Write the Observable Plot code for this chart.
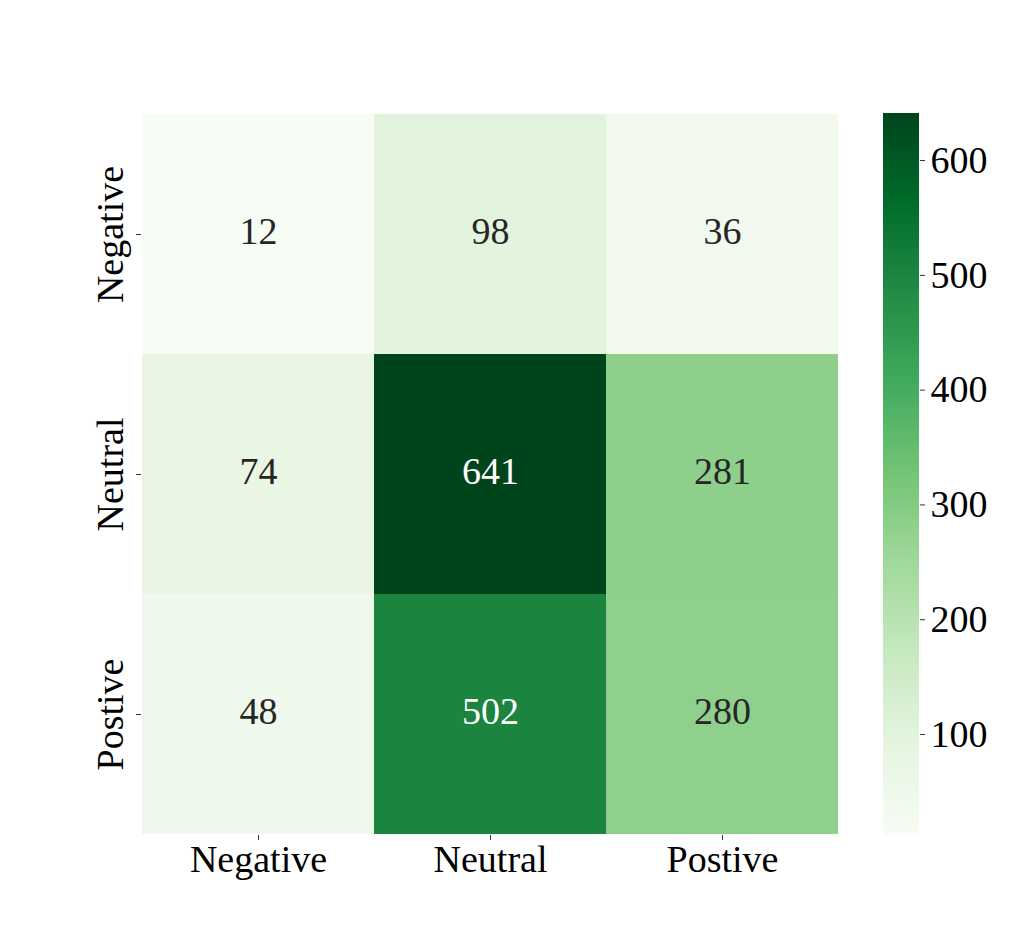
<!DOCTYPE html>
<html>
<head>
<meta charset="utf-8">
<script src="https://cdn.jsdelivr.net/npm/d3@7"></script>
<script src="https://cdn.jsdelivr.net/npm/@observablehq/plot@0.6"></script>
<style>
  html, body { margin: 0; padding: 0; background: #fff; }
  #wrap { position: relative; width: 1028px; height: 939px; }
  #wrap svg { position: absolute; left: 0; top: 0; background: transparent; }
</style>
</head>
<body>
<div id="wrap"></div>
<script>
const rowLabels = ["Negative", "Neutral", "Postive"];   // true labels (rows)
const colLabels = ["Negative", "Neutral", "Postive"];   // predicted labels (columns)
const counts = [
  [12, 98, 36],
  [74, 641, 281],
  [48, 502, 280]
];
const colorbarTicks = [100, 200, 300, 400, 500, 600];
const greens = ["#f7fcf5","#e5f5e0","#c7e9c0","#a1d99b","#74c476","#41ab5d","#238b45","#006d2c","#00441b"];

const cells = [];
rowLabels.forEach((r, i) => colLabels.forEach((c, j) => cells.push({row: r, col: c, value: counts[i][j]})));
const vmin = d3.min(cells, d => d.value), vmax = d3.max(cells, d => d.value);
const interp = d3.piecewise(d3.interpolateRgb, greens);
const colorOf = v => interp((v - vmin) / (vmax - vmin));
function lum(c) {
  const rgb = d3.rgb(c);
  const f = x => { x /= 255; return x <= 0.03928 ? x / 12.92 : Math.pow((x + 0.055) / 1.055, 2.4); };
  return 0.2126 * f(rgb.r) + 0.7152 * f(rgb.g) + 0.0722 * f(rgb.b);
}
const font = "'Liberation Serif', 'Times New Roman', serif";

const heat = Plot.plot({
  width: 1028, height: 939,
  marginLeft: 141, marginRight: 189, marginTop: 113, marginBottom: 104,
  style: {fontFamily: font, fontSize: "38px", color: "#000", background: "transparent"},
  x: {domain: colLabels, padding: 0, label: null},
  y: {domain: rowLabels, padding: 0, label: null},
  color: {type: "linear", domain: [vmin, vmax], interpolate: t => interp(t)},
  marks: [
    Plot.cell(cells, {x: "col", y: "row", fill: "value", inset: 0, shapeRendering: "crispEdges"}),
    Plot.text(cells, {x: "col", y: "row", text: d => String(d.value), fontSize: 38, dy: -3,
      fill: d => lum(colorOf(d.value)) > 0.408 ? "#262626" : "#ffffff"}),
    Plot.axisX({tickSize: 5, tickPadding: 5, fontSize: 38, stroke: "#333", fill: "#000", label: null}),
    Plot.axisY({tickSize: 5, tickPadding: 14, fontSize: 38, tickRotate: -90, stroke: "#333", fill: "#000", label: null})
  ]
});

const steps = d3.range(vmin, vmax, 0.5).map(v => ({v0: v, v1: Math.min(v + 0.5, vmax)}));
const bar = Plot.plot({
  width: 1028, height: 939,
  marginLeft: 883, marginRight: 109, marginTop: 113, marginBottom: 104,
  style: {fontFamily: font, fontSize: "38px", color: "#000", background: "transparent"},
  x: {domain: [0, 1], axis: null},
  y: {domain: [vmin, vmax], label: null},
  color: {type: "linear", domain: [vmin, vmax], interpolate: t => interp(t)},
  marks: [
    Plot.rect(steps, {x1: 0, x2: 1, y1: "v0", y2: "v1", fill: "v0", shapeRendering: "crispEdges"}),
    Plot.axisY({anchor: "right", ticks: colorbarTicks, tickFormat: d3.format("d"), tickSize: 5, tickPadding: 6,
      fontSize: 38, stroke: "#333", fill: "#000", label: null})
  ]
});

const wrap = document.getElementById("wrap");
wrap.appendChild(heat);
wrap.appendChild(bar);
</script>
</body>
</html>
